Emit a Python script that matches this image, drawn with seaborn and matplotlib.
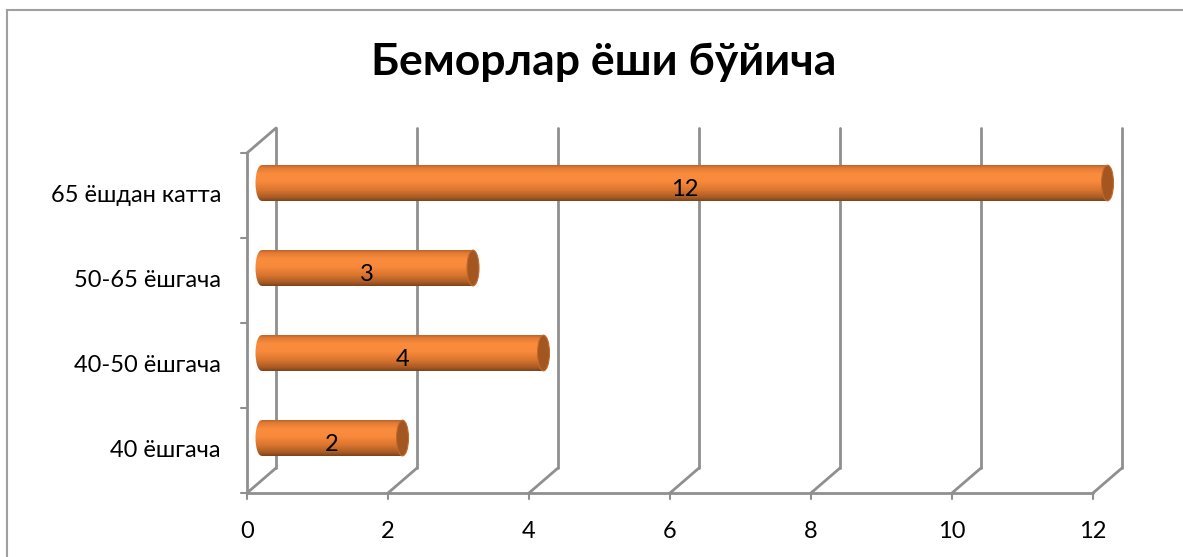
import numpy as np
import matplotlib
matplotlib.use("Agg")
import matplotlib.pyplot as plt
import matplotlib.transforms as mtransforms
from matplotlib.patches import Ellipse, Rectangle
from matplotlib.colors import LinearSegmentedColormap
import seaborn as sns

# --- data -----------------------------------------------------------------
categories = ["65 ёшдан катта", "50-65 ёшгача", "40-50 ёшгача", "40 ёшгача"]
values = [12, 3, 4, 2]
x_ticks = [0, 2, 4, 6, 8, 10, 12]
title = "Беморлар ёши бўйича"

sns.set_theme(style="white")
plt.rcParams["font.family"] = ["Lato", "DejaVu Sans"]

W, H, DPI = 1183, 557, 100
fig = plt.figure(figsize=(W / DPI, H / DPI), dpi=DPI)

# front plane of the 3-D box, in pixels
left, right, top, bottom = 247, 1093, 153, 493
ax = fig.add_axes([left / W, 1 - bottom / H, (right - left) / W, (bottom - top) / H])

grid_col = "#8f8f8f"
sns.barplot(x=values, y=categories, orient="h", ax=ax, width=0.42,
            color="#f58a3a", saturation=1, order=categories)

ylo, yhi = len(categories) - 0.5, -0.5
ax.set_xlim(0, 12)
ax.set_ylim(ylo, yhi)
for s in ax.spines.values():
    s.set_visible(False)
ax.set_xticks([])
ax.set_yticks([])
ax.set_xlabel("")
ax.set_ylabel("")
ax.patch.set_alpha(0)

# depth offsets (back wall and mid-depth, in pixels)
depth = (29, 25)
back = mtransforms.offset_copy(ax.transData, fig=fig, x=depth[0], y=depth[1], units="dots")
mid = mtransforms.offset_copy(ax.transData, fig=fig, x=depth[0] / 2, y=depth[1] / 2, units="dots")

lw = 2.0
# back-wall gridlines
for v in x_ticks:
    ax.plot([v, v], [ylo, yhi], color=grid_col, lw=lw, transform=back, clip_on=False, zorder=0.5)
# floor diagonals drawn in pixel space
for v in x_ticks:
    p0 = ax.transData.transform((v, ylo))
    p1 = p0 + np.array(depth)
    fig.add_artist(plt.Line2D([p0[0] / W, p1[0] / W], [p0[1] / H, p1[1] / H],
                              color=grid_col, lw=lw, transform=fig.transFigure, zorder=0.5))
# left wall: front vertical and top diagonal
ax.plot([0, 0], [ylo, yhi], color=grid_col, lw=lw, clip_on=False, zorder=0.6)
p0 = ax.transData.transform((0, yhi))
p1 = p0 + np.array(depth)
fig.add_artist(plt.Line2D([p0[0] / W, p1[0] / W], [p0[1] / H, p1[1] / H],
                          color=grid_col, lw=lw, transform=fig.transFigure, zorder=0.5))
# front floor edge
ax.plot([0, 12], [ylo, ylo], color=grid_col, lw=lw, clip_on=False, zorder=0.6)

# tick marks
for v in x_ticks:
    ax.plot([v, v], [ylo, ylo + 6 / 85], color=grid_col, lw=1.5, clip_on=False)
for b in np.arange(-0.5, len(categories), 1.0):
    ax.plot([0, -6 / 70.5], [b, b], color=grid_col, lw=1.5, clip_on=False)

# tick labels
for v in x_ticks:
    ax.text(v, ylo + 0.45, str(v), ha="center", va="center", fontsize=17, color="black",
            clip_on=False)
for i, c in enumerate(categories):
    ax.text(-26 / 70.5, i, c, ha="right", va="center", fontsize=17, color="black",
            clip_on=False)

# cylinder shading
cyl = LinearSegmentedColormap.from_list(
    "cyl", [(0.0, "#b9652a"), (0.08, "#e47a35"), (0.25, "#fa8c3d"), (0.45, "#f98a3b"),
            (0.7, "#d9752f"), (0.9, "#a85a24"), (1.0, "#7a421c")])
grad = np.linspace(0, 1, 256).reshape(-1, 1)
cap_w = 12 / 70.5
for patch, v in zip(ax.patches, values):
    x0, y0 = patch.get_x(), patch.get_y()
    w, h = patch.get_width(), patch.get_height()
    patch.set_visible(False)
    yc = y0 + h / 2
    body = Rectangle((x0, y0), w, h, transform=mid, facecolor="none", edgecolor="none")
    lcap = Ellipse((x0, yc), cap_w, h, transform=mid, facecolor="none", edgecolor="none")
    ax.add_patch(body)
    ax.add_patch(lcap)
    for clip in (body, lcap):
        im = ax.imshow(grad, cmap=cyl, aspect="auto", extent=(x0 - cap_w, x0 + w, y0 + h, y0),
                       transform=mid, zorder=2, interpolation="bilinear")
        im.set_clip_box(fig.bbox)
        im.set_clip_path(clip)
    ax.add_patch(Ellipse((x0 + w, yc), cap_w, h, transform=mid, facecolor="#a3561f",
                         edgecolor="#c26a2c", lw=0.8, zorder=3, clip_on=False))
    ax.text(v / 2, yc + 0.08, str(v), ha="center", va="center", fontsize=17,
            color="black", transform=mid, zorder=4)

ax.set_xlim(0, 12)
ax.set_ylim(ylo, yhi)

fig.text(604 / W, 1 - 62 / H, title, ha="center", va="center", fontsize=32,
         fontweight="bold", color="black")

# outer chart border (top and left edges visible)
fig.add_artist(Rectangle((7 / W, -0.05), 1.2, 1 - 10 / H + 0.05, transform=fig.transFigure,
                         facecolor="none", edgecolor="#a0a0a0", lw=1.5))

fig.savefig("out.png", dpi=DPI)
